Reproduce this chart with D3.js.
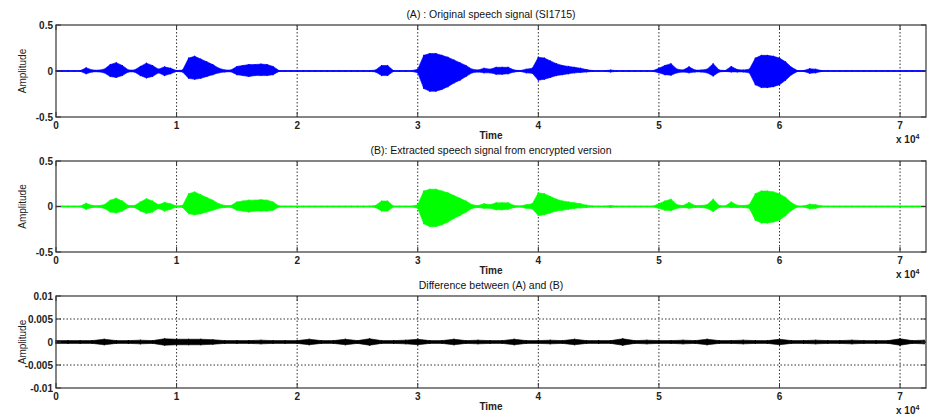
<!DOCTYPE html>
<html>
<head>
<meta charset="utf-8">
<script src="https://cdn.jsdelivr.net/npm/d3@7"></script>
<style>
  body { margin: 0; background: #fff; }
  svg { font-family: "Liberation Sans", Arial, sans-serif; }
  .tick-label { font-size: 10px; font-weight: bold; fill: #222; }
  .title { font-size: 10.5px; fill: #111; }
</style>
</head>
<body>
<div id="chart"></div>
<script>
const WIDTH = 931;
const HEIGHT = 417;
const X_LEFT = 56;
const X_RIGHT = 926;

// envelope of the speech signal, one value every 500 samples
const SPEECH_STEP = 500;
const speechUpper = [
  0.004, 0.004, 0.004, 0.004, 0.004, 0.035, 0.012, 0.008, 0.02, 0.07,   // 0 - 4.5k
  0.09, 0.06, 0.012, 0.01, 0.05, 0.085, 0.06, 0.02, 0.045, 0.03,        // 5k - 9.5k
  0.005, 0.01, 0.14, 0.16, 0.13, 0.1, 0.07, 0.03, 0.012, 0.01,          // 10k - 14.5k
  0.05, 0.06, 0.07, 0.07, 0.075, 0.07, 0.05, 0.005, 0.004, 0.004,       // 15k - 19.5k
  0.004, 0.004, 0.004, 0.004, 0.004, 0.004, 0.004, 0.004, 0.004, 0.004, // 20k - 24.5k
  0.004, 0.004, 0.004, 0.01, 0.06, 0.06, 0.004, 0.004, 0.004, 0.004,   // 25k - 29.5k
  0.02, 0.17, 0.19, 0.19, 0.17, 0.15, 0.12, 0.09, 0.06, 0.02,          // 30k - 34.5k
  0.01, 0.03, 0.02, 0.04, 0.04, 0.04, 0.01, 0.005, 0.02, 0.03,          // 35k - 39.5k
  0.15, 0.14, 0.11, 0.08, 0.06, 0.05, 0.04, 0.03, 0.015, 0.005,        // 40k - 44.5k
  0.004, 0.004, 0.01, 0.004, 0.004, 0.004, 0.004, 0.004, 0.004, 0.004, // 45k - 49.5k
  0.03, 0.06, 0.08, 0.02, 0.01, 0.045, 0.01, 0.01, 0.02, 0.08,          // 50k - 54.5k
  0.01, 0.005, 0.05, 0.015, 0.01, 0.02, 0.14, 0.17, 0.17, 0.16,         // 55k - 59.5k
  0.14, 0.1, 0.04, 0.005, 0.005, 0.025, 0.02, 0.005, 0.004, 0.004,      // 60k - 64.5k
  0.004, 0.004, 0.004, 0.004, 0.004, 0.004, 0.004, 0.004, 0.004, 0.004, // 65k - 69.5k
  0.004, 0.004, 0.004, 0.004, 0.004                                    // 70k - 72k
];
const speechLower = [
  0.004, 0.004, 0.004, 0.004, 0.004, 0.03, 0.01, 0.008, 0.02, 0.06,
  0.07, 0.05, 0.01, 0.01, 0.05, 0.075, 0.06, 0.02, 0.05, 0.03,
  0.005, 0.01, 0.08, 0.09, 0.08, 0.06, 0.04, 0.02, 0.01, 0.008,
  0.04, 0.05, 0.06, 0.05, 0.05, 0.05, 0.04, 0.005, 0.004, 0.004,
  0.004, 0.004, 0.004, 0.004, 0.004, 0.004, 0.004, 0.004, 0.004, 0.004,
  0.004, 0.004, 0.004, 0.01, 0.05, 0.05, 0.004, 0.004, 0.004, 0.004,
  0.02, 0.19, 0.22, 0.22, 0.2, 0.17, 0.13, 0.1, 0.06, 0.02,
  0.01, 0.02, 0.02, 0.035, 0.035, 0.03, 0.01, 0.005, 0.02, 0.025,
  0.1, 0.09, 0.07, 0.05, 0.04, 0.03, 0.02, 0.015, 0.01, 0.005,
  0.004, 0.004, 0.01, 0.004, 0.004, 0.004, 0.004, 0.004, 0.004, 0.004,
  0.02, 0.04, 0.045, 0.02, 0.01, 0.02, 0.01, 0.01, 0.02, 0.055,
  0.01, 0.005, 0.01, 0.01, 0.01, 0.02, 0.15, 0.18, 0.18, 0.17,
  0.15, 0.1, 0.04, 0.005, 0.005, 0.025, 0.02, 0.005, 0.004, 0.004,
  0.004, 0.004, 0.004, 0.004, 0.004, 0.004, 0.004, 0.004, 0.004, 0.004,
  0.004, 0.004, 0.004, 0.004, 0.004
];

// envelope of the difference (A) - (B), one value every 1000 samples
const DIFF_STEP = 1000;
const diffEnv = [
  0.0003, 0.0003, 0.0003, 0.0003, 0.0006, 0.0003, 0.0003, 0.0004, 0.0003, 0.0007,
  0.0006, 0.0006, 0.0006, 0.0005, 0.0003, 0.0003, 0.0003, 0.0004, 0.0003, 0.0003,
  0.0003, 0.0006, 0.0003, 0.0003, 0.0006, 0.0003, 0.0007, 0.0003, 0.0003, 0.0004,
  0.0006, 0.0003, 0.0003, 0.0006, 0.0003, 0.0004, 0.0003, 0.0003, 0.0006, 0.0003,
  0.0003, 0.0004, 0.0003, 0.0006, 0.0003, 0.0003, 0.0003, 0.0007, 0.0003, 0.0004,
  0.0003, 0.0003, 0.0004, 0.0003, 0.0006, 0.0003, 0.0003, 0.0004, 0.0003, 0.0003,
  0.0006, 0.0003, 0.0003, 0.0004, 0.0003, 0.0003, 0.0004, 0.0003, 0.0003, 0.0003,
  0.0007, 0.0003, 0.0004
];

const xTicks = [0, 10000, 20000, 30000, 40000, 50000, 60000, 70000];
const xTickLabels = ["0", "1", "2", "3", "4", "5", "6", "7"];
const speechYTicks = [-0.5, 0, 0.5];
const speechYLabels = ["-0.5", "0", "0.5"];
const diffYTicks = [-0.01, -0.005, 0, 0.005, 0.01];
const diffYLabels = ["-0.01", "-0.005", "0", "0.005", "0.01"];
const X_MAX = 72150;

const panels = [
  {top: 25, bottom: 117, title: "(A) : Original speech signal (SI1715)", color: "#0000ff",
   yDomain: [-0.5, 0.5], yTicks: speechYTicks, yLabels: speechYLabels, hGrid: false,
   upper: speechUpper, lower: speechLower, step: SPEECH_STEP},
  {top: 161, bottom: 252, title: "(B): Extracted speech signal from encrypted version", color: "#00ff00",
   yDomain: [-0.5, 0.5], yTicks: speechYTicks, yLabels: speechYLabels, hGrid: false,
   upper: speechUpper, lower: speechLower, step: SPEECH_STEP},
  {top: 296, bottom: 388, title: "Difference between (A) and (B)", color: "#000000",
   yDomain: [-0.01, 0.01], yTicks: diffYTicks, yLabels: diffYLabels, hGrid: true,
   upper: diffEnv, lower: diffEnv, step: DIFF_STEP}
];

const svg = d3.select("#chart").append("svg")
  .attr("width", WIDTH)
  .attr("height", HEIGHT);

const X_SCALE = d3.scaleLinear().domain([0, X_MAX]).range([X_LEFT, X_RIGHT]);

panels.forEach((p) => {
  const Y_SCALE = d3.scaleLinear().domain(p.yDomain).range([p.bottom, p.top]);
  const g = svg.append("g");

  // title
  g.append("text")
    .attr("class", "title")
    .attr("x", (X_LEFT + X_RIGHT) / 2)
    .attr("y", p.top - 7)
    .attr("text-anchor", "middle")
    .text(p.title);

  // grid
  g.selectAll(".vgrid")
    .data(xTicks.filter((d) => d > 0))
    .enter().append("line")
      .attr("x1", (d) => X_SCALE(d)).attr("x2", (d) => X_SCALE(d))
      .attr("y1", p.top).attr("y2", p.bottom)
      .attr("stroke", "#333").attr("stroke-width", 1)
      .attr("stroke-dasharray", "1.5,2");
  if (p.hGrid) {
    g.selectAll(".hgrid")
      .data(p.yTicks.filter((d) => d > p.yDomain[0] && d < p.yDomain[1]))
      .enter().append("line")
        .attr("x1", X_LEFT).attr("x2", X_RIGHT)
        .attr("y1", (d) => Y_SCALE(d)).attr("y2", (d) => Y_SCALE(d))
        .attr("stroke", "#333").attr("stroke-width", 1)
        .attr("stroke-dasharray", "1.5,2");
  }

  // signal envelope
  const area = d3.area()
    .x((d, i) => X_SCALE(i * p.step))
    .y0((d, i) => Y_SCALE(-p.lower[i]))
    .y1((d) => Y_SCALE(d));
  g.append("path")
    .datum(p.upper)
    .attr("d", area)
    .attr("fill", p.color)
    .attr("stroke", p.color)
    .attr("stroke-width", 0.6);

  g.selectAll(".spike")
    .data(p.upper)
    .enter().append("line")
      .attr("x1", (d, i) => X_SCALE(i * p.step)).attr("x2", (d, i) => X_SCALE(i * p.step))
      .attr("y1", (d) => Y_SCALE(d) - 0.5)
      .attr("y2", (d, i) => Y_SCALE(-p.lower[i]) + 0.5)
      .attr("stroke", p.color).attr("stroke-width", 1.2);

  g.append("line")
    .attr("x1", X_LEFT).attr("x2", X_RIGHT)
    .attr("y1", Y_SCALE(0)).attr("y2", Y_SCALE(0))
    .attr("stroke", p.color).attr("stroke-width", 1.6);

  // box
  g.append("rect")
    .attr("x", X_LEFT).attr("y", p.top)
    .attr("width", X_RIGHT - X_LEFT).attr("height", p.bottom - p.top)
    .attr("fill", "none").attr("stroke", "#444").attr("stroke-width", 1.3);

  // x ticks (inward, top and bottom)
  xTicks.forEach((t, i) => {
    const x = X_SCALE(t);
    g.append("line").attr("x1", x).attr("x2", x).attr("y1", p.bottom).attr("y2", p.bottom - 5)
      .attr("stroke", "#333").attr("stroke-width", 1);
    g.append("line").attr("x1", x).attr("x2", x).attr("y1", p.top).attr("y2", p.top + 5)
      .attr("stroke", "#333").attr("stroke-width", 1);
    g.append("text").attr("class", "tick-label")
      .attr("x", x).attr("y", p.bottom + 12)
      .attr("text-anchor", "middle")
      .text(xTickLabels[i]);
  });

  // y ticks (inward, left and right)
  p.yTicks.forEach((t, i) => {
    const y = Y_SCALE(t);
    g.append("line").attr("x1", X_LEFT).attr("x2", X_LEFT + 5).attr("y1", y).attr("y2", y)
      .attr("stroke", "#333").attr("stroke-width", 1);
    g.append("line").attr("x1", X_RIGHT).attr("x2", X_RIGHT - 5).attr("y1", y).attr("y2", y)
      .attr("stroke", "#333").attr("stroke-width", 1);
    g.append("text").attr("class", "tick-label")
      .attr("x", X_LEFT - 3).attr("y", y + 3.5)
      .attr("text-anchor", "end")
      .text(p.yLabels[i]);
  });

  // axis labels
  g.append("text")
    .attr("x", (X_LEFT + X_RIGHT) / 2)
    .attr("y", p.bottom + 22)
    .attr("text-anchor", "middle")
    .attr("font-size", "10px").attr("font-weight", "bold").attr("fill", "#222")
    .text("Time");

  g.append("text")
    .attr("transform", "translate(26," + ((p.top + p.bottom) / 2) + ") rotate(-90)")
    .attr("text-anchor", "middle")
    .attr("font-size", "10px").attr("fill", "#222")
    .text("Amplitude");

  const mult = g.append("text")
    .attr("x", 896).attr("y", p.bottom + 26)
    .attr("font-size", "10px").attr("font-weight", "bold").attr("fill", "#222");
  mult.append("tspan").text("x 10");
  mult.append("tspan").attr("dy", -4).attr("font-size", "7px").text("4");
});
</script>
</body>
</html>
